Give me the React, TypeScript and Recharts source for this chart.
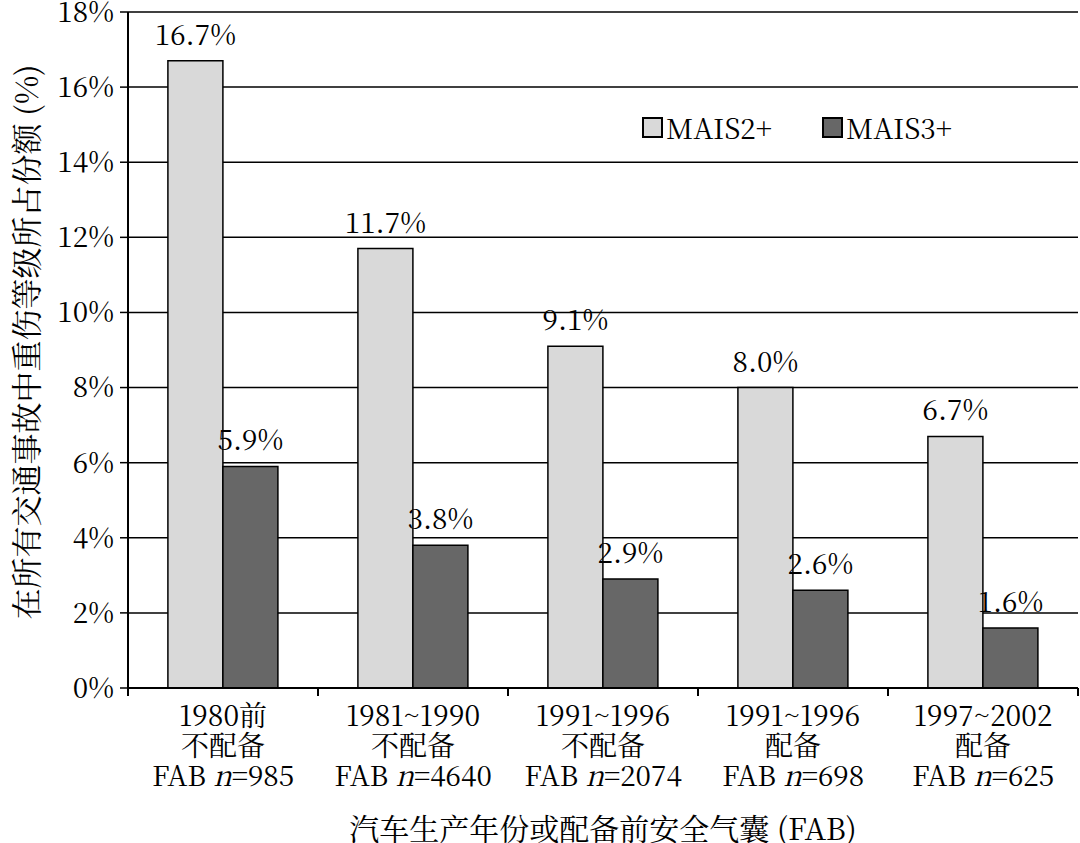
import React from 'react';
import {
    BarChart, Bar, XAxis, YAxis, CartesianGrid, Legend, LabelList
} from 'recharts';

const yearRanges = ['1980前', '1981~1990', '1991~1996', '1991~1996', '1997~2002'];
const fabStatus = ['不配备', '不配备', '不配备', '配备', '配备'];
const sampleSizes = ['985', '4640', '2074', '698', '625'];
const mais2 = [16.7, 11.7, 9.1, 8.0, 6.7];
const mais3 = [5.9, 3.8, 2.9, 2.6, 1.6];
const yTicks = [0, 2, 4, 6, 8, 10, 12, 14, 16, 18];

const data = yearRanges.map((y, i) => ({
    key: `c${i}`,
    year: y,
    status: fabStatus[i],
    n: sampleSizes[i],
    mais2: mais2[i],
    mais3: mais3[i],
}));

const FONT = 'Noto Serif CJK SC';
const LIGHT = '#d9d9d9';
const DARK = '#676767';
const TICK_SIZE = 8;
const TICK_MARGIN = 2;

const CategoryTick = (props: any) => {
    const { x, y, payload, index } = props;
    const d = data[index];
    const half = payload.offset || 95;
    const axisY = y - TICK_SIZE - TICK_MARGIN;
    return (
        <g>
            <line x1={x - half} x2={x - half} y1={axisY} y2={axisY + TICK_SIZE} stroke="#000" strokeWidth={2} />
            {index === data.length - 1 && (
                <line x1={x + half} x2={x + half} y1={axisY} y2={axisY + TICK_SIZE} stroke="#000" strokeWidth={2} />
            )}
            <text x={x} y={y} textAnchor="middle" fontFamily={FONT} fontSize={28} fill="#000">
                <tspan x={x} dy={28}>{d.year}</tspan>
                <tspan x={x} dy={30}>{d.status}</tspan>
                <tspan x={x} dy={30}>FAB <tspan fontStyle="italic">n</tspan>={d.n}</tspan>
            </text>
        </g>
    );
};

const renderLegend = () => (
    <div style={{ display: 'flex', alignItems: 'center', fontFamily: FONT, fontSize: 28, color: '#000' }}>
        <span style={{ width: 17, height: 17, background: LIGHT, border: '2px solid #000', display: 'inline-block', marginRight: 3 }} />
        <span style={{ marginRight: 50 }}>MAIS2+</span>
        <span style={{ width: 17, height: 17, background: DARK, border: '2px solid #000', display: 'inline-block', marginRight: 3 }} />
        <span>MAIS3+</span>
    </div>
);

export default function App() {
    return (
        <div style={{ position: 'absolute', left: 0, top: 0, width: 1080, height: 843, background: '#fff' }}>
            <BarChart
                width={1080}
                height={843}
                data={data}
                margin={{ top: 12, right: 2, bottom: 0, left: 0 }}
                barCategoryGap="21%"
                barGap={0}
            >
                <CartesianGrid vertical={false} stroke="#000" strokeWidth={1.5} />
                <XAxis
                    dataKey="key"
                    height={155}
                    interval={0}
                    tickLine={false}
                    tickSize={TICK_SIZE}
                    tickMargin={TICK_MARGIN}
                    axisLine={{ stroke: '#000', strokeWidth: 2 }}
                    tick={<CategoryTick />}
                    label={(p: any) => {
                        const vb = p.viewBox;
                        return (
                            <text x={vb.x + vb.width / 2} y={vb.y + 139} textAnchor="middle" dominantBaseline="central" fontFamily={FONT} fontSize={30} fill="#000">
                                汽车生产年份或配备前安全气囊 (FAB)
                            </text>
                        );
                    }}
                />
                <YAxis
                    width={128}
                    domain={[0, 18]}
                    ticks={yTicks}
                    interval={0}
                    tickFormatter={(v: number) => `${v}%`}
                    tickSize={TICK_SIZE}
                    tickMargin={6}
                    tickLine={{ stroke: '#000', strokeWidth: 1.5 }}
                    axisLine={{ stroke: '#000', strokeWidth: 2 }}
                    tick={{ fill: '#000', fontSize: 28, fontFamily: FONT }}
                    label={(p: any) => {
                        const vb = p.viewBox;
                        const cx = 24;
                        const cy = vb.y + vb.height / 2 - 8;
                        return (
                            <text x={cx} y={cy} transform={`rotate(-90, ${cx}, ${cy})`} textAnchor="middle" dominantBaseline="central" fontFamily={FONT} fontSize={31} fill="#000">
                                在所有交通事故中重伤等级所占份额 (%)
                            </text>
                        );
                    }}
                />
                <Legend
                    layout="horizontal"
                    verticalAlign="middle"
                    content={renderLegend}
                    wrapperStyle={{ position: 'absolute', top: 107, left: 642, width: 'auto' }}
                />
                <Bar dataKey="mais2" name="MAIS2+" fill={LIGHT} stroke="#000" strokeWidth={1.5} isAnimationActive={false}>
                    <LabelList dataKey="mais2" position="top" offset={16} formatter={(v: any) => `${Number(v).toFixed(1)}%`} fontFamily={FONT} fontSize={28} fill="#000" />
                </Bar>
                <Bar dataKey="mais3" name="MAIS3+" fill={DARK} stroke="#000" strokeWidth={1.5} isAnimationActive={false}>
                    <LabelList dataKey="mais3" position="top" offset={16} formatter={(v: any) => `${Number(v).toFixed(1)}%`} fontFamily={FONT} fontSize={28} fill="#000" />
                </Bar>
            </BarChart>
        </div>
    );
}
